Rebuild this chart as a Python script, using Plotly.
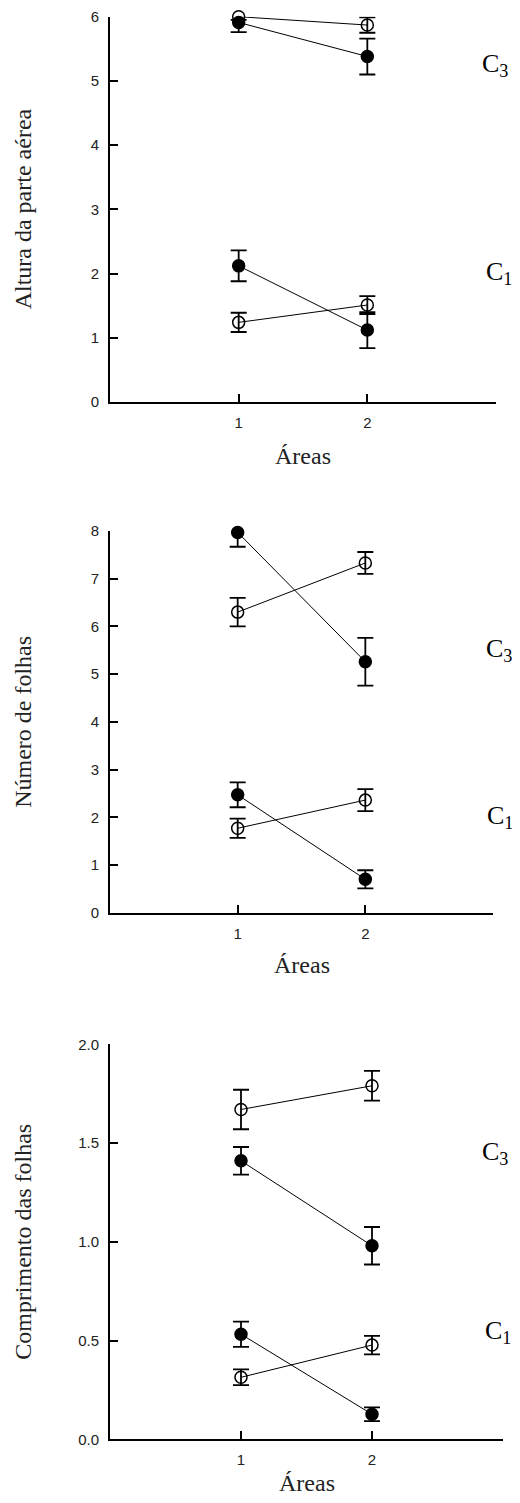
import plotly.graph_objects as go

# ---------------- data ----------------
areas = [1, 2]
tick_areas = ["1", "2"]

# Panel 1: Altura da parte aérea
alt_c3_open = [6.00, 5.87]
alt_c3_open_err = [0.05, 0.12]
alt_c3_fill = [5.91, 5.38]
alt_c3_fill_err = [0.15, 0.28]
alt_c1_open = [1.24, 1.51]
alt_c1_open_err = [0.15, 0.14]
alt_c1_fill = [2.12, 1.12]
alt_c1_fill_err = [0.24, 0.28]

# Panel 2: Número de folhas
nf_c3_open = [6.30, 7.33]
nf_c3_open_err = [0.30, 0.23]
nf_c3_fill = [7.97, 5.26]
nf_c3_fill_err = [0.30, 0.50]
nf_c1_open = [1.77, 2.36]
nf_c1_open_err = [0.20, 0.23]
nf_c1_fill = [2.47, 0.70]
nf_c1_fill_err = [0.26, 0.19]

# Panel 3: Comprimento das folhas
cf_c3_open = [1.67, 1.79]
cf_c3_open_err = [0.10, 0.075]
cf_c3_fill = [1.41, 0.98]
cf_c3_fill_err = [0.07, 0.095]
cf_c1_open = [0.314, 0.477]
cf_c1_open_err = [0.04, 0.047]
cf_c1_fill = [0.532, 0.127]
cf_c1_fill_err = [0.064, 0.035]

y_titles = ["Altura da parte aérea", "Número de folhas", "Comprimento das folhas"]
x_title = "Áreas"
y_ranges = [[0, 6], [0, 8], [0, 2]]
y_dticks = [1, 1, 0.5]
y_formats = ["d", "d", ".1f"]

panels = [
    [(alt_c3_open, alt_c3_open_err, True), (alt_c3_fill, alt_c3_fill_err, False),
     (alt_c1_open, alt_c1_open_err, True), (alt_c1_fill, alt_c1_fill_err, False)],
    [(nf_c3_open, nf_c3_open_err, True), (nf_c3_fill, nf_c3_fill_err, False),
     (nf_c1_open, nf_c1_open_err, True), (nf_c1_fill, nf_c1_fill_err, False)],
    [(cf_c3_open, cf_c3_open_err, True), (cf_c3_fill, cf_c3_fill_err, False),
     (cf_c1_open, cf_c1_open_err, True), (cf_c1_fill, cf_c1_fill_err, False)],
]

# ---------------- layout geometry (pixels in the window) ----------------
OFF = 8                      # default page body margin
W, H = 520 - 2 * OFF, 1503 - 2 * OFF
# (x_left, x_right, y_top, y_bottom) of each plot area, window pixels
boxes = [(110, 496, 16.7, 402), (110, 493, 531, 912.7), (110, 503, 1044.3, 1439.3)]
c_label_pos = [((480, 65), (484, 273)), ((484, 650), (485, 817)), ((480, 1153), (483, 1332))]
xtitle_y = [456, 965, 1483]


def px(x):
    return (x - OFF) / W


def py(y):
    return 1 - (y - OFF) / H


fig = go.Figure()
layout = dict(width=W, height=H, margin=dict(l=0, r=0, t=0, b=0, autoexpand=False),
              paper_bgcolor="white", plot_bgcolor="white", showlegend=False,
              template="none")
annotations = []

for i, (series, box) in enumerate(zip(panels, boxes)):
    n = "" if i == 0 else str(i + 1)
    xa, ya = "x" + n, "y" + n
    for vals, errs, is_open in series:
        fig.add_trace(go.Scatter(
            x=areas, y=vals, xaxis=xa, yaxis=ya,
            mode="lines+markers", cliponaxis=False,
            line=dict(color="black", width=1),
            marker=dict(symbol="circle-open" if is_open else "circle", size=12,
                        color="black", line=dict(color="black", width=1.5)),
            error_y=dict(type="data", array=errs, visible=True, color="black",
                         thickness=1.8, width=8),
        ))
    xl, xr, yt, yb = box
    axis_common = dict(showline=True, linecolor="black", linewidth=2, showgrid=False,
                       zeroline=False, ticks="inside", ticklen=8, tickwidth=1.5,
                       tickcolor="black", automargin=False, ticklabeloverflow="allow",
                       tickfont=dict(family="Liberation Sans", size=15, color="#222"))
    layout["xaxis" + n] = dict(axis_common, domain=[px(xl), px(xr)], range=[0, 3],
                               tickvals=areas, ticktext=tick_areas, anchor=ya,
                               ticklabelstandoff=6)
    layout["yaxis" + n] = dict(axis_common, domain=[py(yb), py(yt)],
                               range=y_ranges[i], dtick=y_dticks[i],
                               tickformat=y_formats[i], anchor=xa,
                               ticklabelstandoff=6)
    # titles
    annotations.append(dict(text=y_titles[i], xref="paper", yref="paper",
                            x=px(23), y=py((yt + yb) / 2), textangle=-90,
                            showarrow=False, xanchor="center", yanchor="middle",
                            font=dict(family="Liberation Serif", size=24, color="#222")))
    annotations.append(dict(text=x_title, xref="paper", yref="paper",
                            x=px((xl + xr) / 2), y=py(xtitle_y[i]),
                            showarrow=False, xanchor="center", yanchor="middle",
                            font=dict(family="Liberation Serif", size=24, color="#222")))
    for lab, (lx, ly) in zip(["C<sub>3</sub>", "C<sub>1</sub>"], c_label_pos[i]):
        annotations.append(dict(text=lab, xref="paper", yref="paper",
                                x=px(lx), y=py(ly), showarrow=False,
                                xanchor="left", yanchor="middle",
                                font=dict(family="Liberation Serif", size=26, color="black")))

layout["annotations"] = annotations
fig.update_layout(**layout)
fig.write_html("out.html")
